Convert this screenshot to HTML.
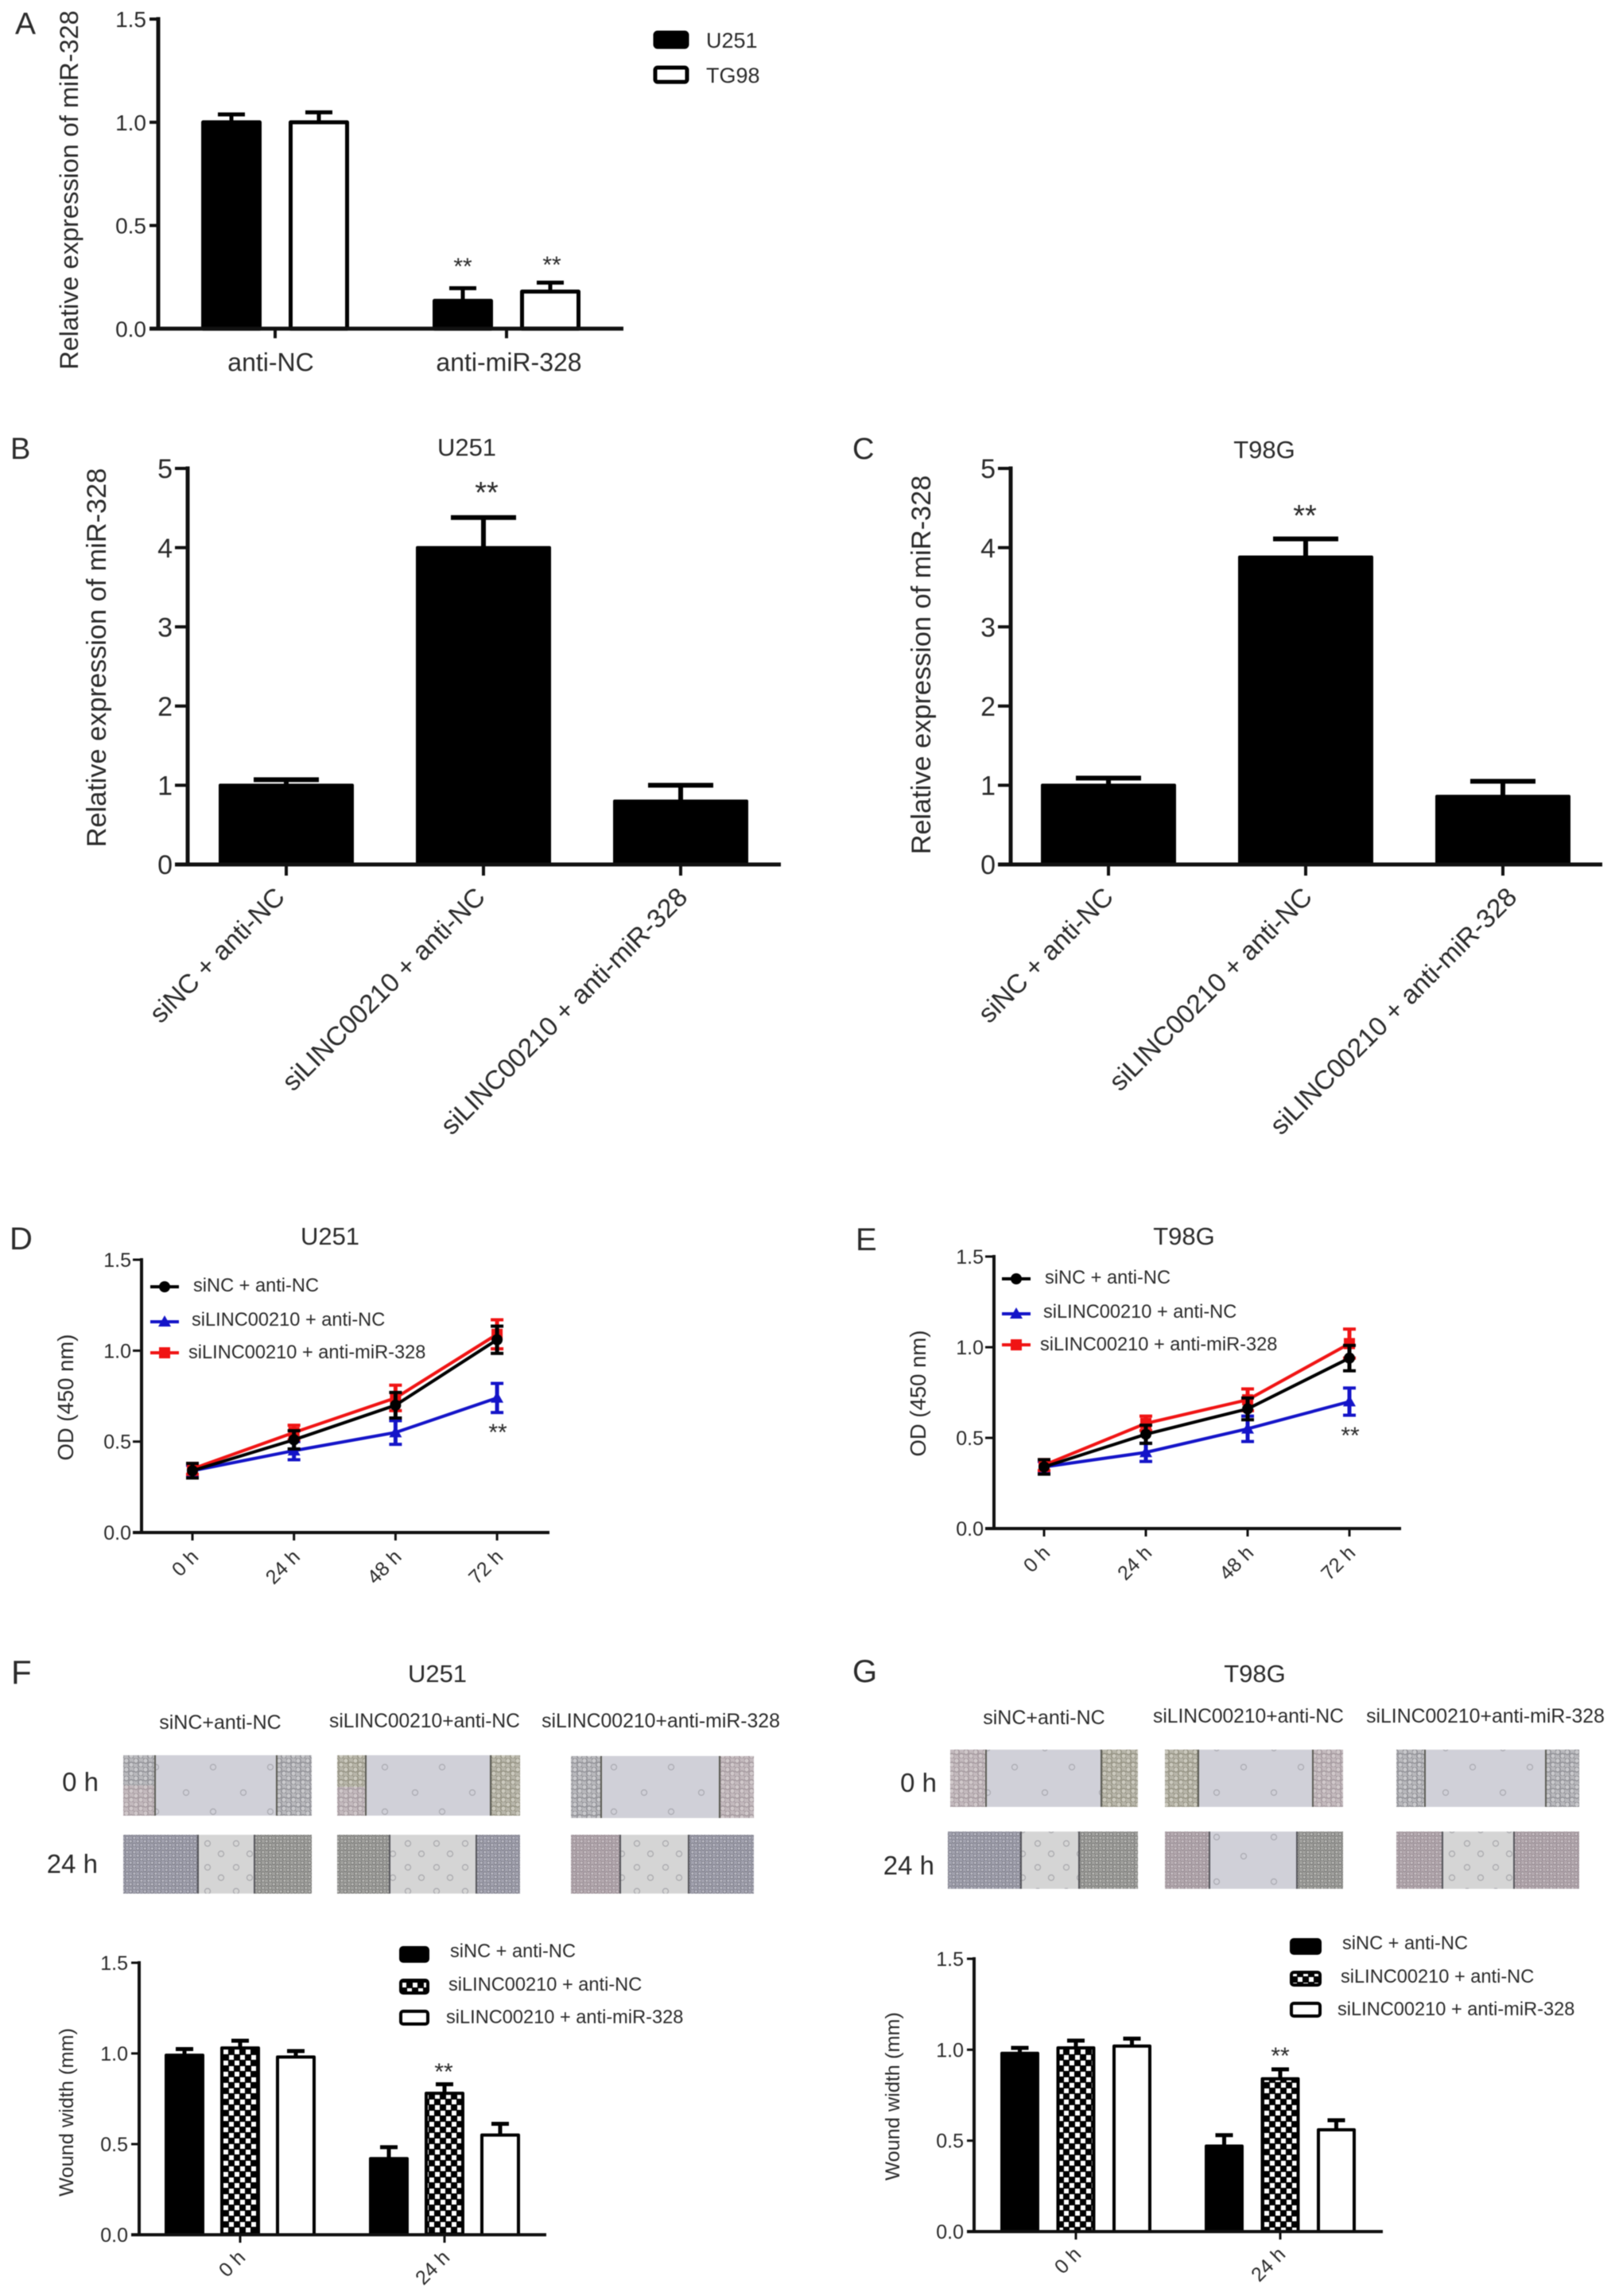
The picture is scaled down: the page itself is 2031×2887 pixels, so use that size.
<!DOCTYPE html>
<html lang="en">
<head>
<meta charset="utf-8">
<title>LINC00210 and miR-328 figure panels</title>
<style>
html,body{margin:0;padding:0;background:#fff;}
svg{display:block;filter:blur(0.6px);}
text{font-family:"Liberation Sans",sans-serif;fill:#2b2b2b;}
</style>
</head>
<body>
<svg id="figure" xmlns="http://www.w3.org/2000/svg" width="2031" height="2887" viewBox="0 0 2031 2887">
<defs>
<pattern id="checker" width="14" height="14" patternUnits="userSpaceOnUse"><rect width="14" height="14" fill="#000"/><rect x="1" y="1" width="6" height="6" fill="#fff"/><rect x="8" y="8" width="6" height="6" fill="#fff"/></pattern>
<pattern id="cg" width="12" height="11" patternUnits="userSpaceOnUse"><rect width="12" height="11" fill="#b9b9bd"/><circle cx="3" cy="3" r="3.2" fill="#c9c9cc" stroke="#85858b" stroke-width="1.2"/><circle cx="9" cy="8" r="3.2" fill="#c9c9cc" stroke="#85858b" stroke-width="1.2"/></pattern>
<pattern id="cp" width="12" height="11" patternUnits="userSpaceOnUse"><rect width="12" height="11" fill="#c4babe"/><circle cx="3" cy="3" r="3.2" fill="#d0c8ca" stroke="#9c9096" stroke-width="1.2"/><circle cx="9" cy="8" r="3.2" fill="#d0c8ca" stroke="#9c9096" stroke-width="1.2"/></pattern>
<pattern id="cy" width="12" height="11" patternUnits="userSpaceOnUse"><rect width="12" height="11" fill="#b8b6aa"/><circle cx="3" cy="3" r="3.2" fill="#cbc9be" stroke="#8b8878" stroke-width="1.2"/><circle cx="9" cy="8" r="3.2" fill="#cbc9be" stroke="#8b8878" stroke-width="1.2"/></pattern>
<pattern id="db" width="9" height="9" patternUnits="userSpaceOnUse"><rect width="9" height="9" fill="#a3a3b0"/><circle cx="2.3" cy="2.3" r="2.2" fill="#b8b8c2" stroke="#73737f" stroke-width="1"/><circle cx="6.8" cy="6.8" r="2.2" fill="#b8b8c2" stroke="#73737f" stroke-width="1"/></pattern>
<pattern id="dg" width="9" height="9" patternUnits="userSpaceOnUse"><rect width="9" height="9" fill="#a2a29f"/><circle cx="2.3" cy="2.3" r="2.2" fill="#b7b7b4" stroke="#6d6d6b" stroke-width="1"/><circle cx="6.8" cy="6.8" r="2.2" fill="#b7b7b4" stroke="#6d6d6b" stroke-width="1"/></pattern>
<pattern id="dp" width="9" height="9" patternUnits="userSpaceOnUse"><rect width="9" height="9" fill="#b5aab0"/><circle cx="2.3" cy="2.3" r="2.2" fill="#c6bdc2" stroke="#8d8188" stroke-width="1"/><circle cx="6.8" cy="6.8" r="2.2" fill="#c6bdc2" stroke="#8d8188" stroke-width="1"/></pattern>
<pattern id="gap0" width="72" height="56" patternUnits="userSpaceOnUse"><rect width="72" height="56" fill="#d0d0d8"/><circle cx="18" cy="14" r="3.5" fill="none" stroke="#a9a9b0" stroke-width="1.2"/><circle cx="52" cy="38" r="3.5" fill="none" stroke="#a9a9b0" stroke-width="1.2"/></pattern>
<pattern id="gap1" width="36" height="30" patternUnits="userSpaceOnUse"><rect width="36" height="30" fill="#d5d5d5"/><circle cx="9" cy="8" r="3.5" fill="none" stroke="#a8a8ac" stroke-width="1.2"/><circle cx="26" cy="21" r="3.5" fill="none" stroke="#a8a8ac" stroke-width="1.2"/></pattern>
</defs>

<!-- Panel static text -->
<text x="19" y="43" font-size="39">A</text>
<text x="98" y="239" font-size="32.5" text-anchor="middle" transform="rotate(-90 98 239)">Relative expression of miR-328</text>
<text x="582" y="345" font-size="30" text-anchor="middle">**</text>
<text x="694" y="343" font-size="30" text-anchor="middle">**</text>
<g>
<rect x="824" y="41" width="40" height="18" rx="3" fill="#000" stroke="#000" stroke-width="5"/>
<text x="888" y="60" font-size="27">U251</text>
<rect x="824" y="85" width="40" height="18" rx="3" fill="#fff" stroke="#000" stroke-width="5"/>
<text x="888" y="104" font-size="27">TG98</text>
</g>

<text x="13" y="577" font-size="38">B</text>
<text x="587" y="573" font-size="31" text-anchor="middle">U251</text>
<text x="133" y="827" font-size="34.3" text-anchor="middle" transform="rotate(-90 133 827)">Relative expression of miR-328</text>
<text x="612" y="632" font-size="38" text-anchor="middle">**</text>

<text x="1072" y="577" font-size="38">C</text>
<text x="1590" y="576" font-size="31" text-anchor="middle">T98G</text>
<text x="1170" y="836" font-size="34.3" text-anchor="middle" transform="rotate(-90 1170 836)">Relative expression of miR-328</text>
<text x="1641" y="661" font-size="38" text-anchor="middle">**</text>

<text x="12" y="1571" font-size="40">D</text>
<text x="415" y="1565" font-size="31" text-anchor="middle">U251</text>
<text x="92" y="1757" font-size="27.5" text-anchor="middle" transform="rotate(-90 92 1757)">OD (450 nm)</text>
<text x="626" y="1811" font-size="30" text-anchor="middle">**</text>
<g>
<line x1="189" y1="1618" x2="225" y2="1618" stroke="#000" stroke-width="4"/>
<circle cx="207" cy="1618" r="7" fill="#000"/>
<text x="243" y="1624" font-size="23.6">siNC + anti-NC</text>
<line x1="189" y1="1662" x2="225" y2="1662" stroke="#1414c8" stroke-width="4"/>
<polygon points="207,1654 215,1668 199,1668" fill="#1414c8"/>
<text x="241" y="1667" font-size="23.6">siLINC00210 + anti-NC</text>
<line x1="189" y1="1701" x2="225" y2="1701" stroke="#f01414" stroke-width="4"/>
<rect x="200" y="1694" width="14" height="14" fill="#f01414"/>
<text x="237" y="1708" font-size="23.6">siLINC00210 + anti-miR-328</text>
</g>

<text x="1076" y="1572" font-size="40">E</text>
<text x="1489" y="1565" font-size="31" text-anchor="middle">T98G</text>
<text x="1164" y="1752" font-size="27.5" text-anchor="middle" transform="rotate(-90 1164 1752)">OD (450 nm)</text>
<text x="1698" y="1815" font-size="30" text-anchor="middle">**</text>
<g>
<line x1="1260" y1="1608" x2="1296" y2="1608" stroke="#000" stroke-width="4"/>
<circle cx="1278" cy="1608" r="7" fill="#000"/>
<text x="1314" y="1614" font-size="23.6">siNC + anti-NC</text>
<line x1="1260" y1="1652" x2="1296" y2="1652" stroke="#1414c8" stroke-width="4"/>
<polygon points="1278,1644 1286,1658 1270,1658" fill="#1414c8"/>
<text x="1312" y="1657" font-size="23.6">siLINC00210 + anti-NC</text>
<line x1="1260" y1="1691" x2="1296" y2="1691" stroke="#f01414" stroke-width="4"/>
<rect x="1271" y="1684" width="14" height="14" fill="#f01414"/>
<text x="1308" y="1698" font-size="23.6">siLINC00210 + anti-miR-328</text>
</g>

<!-- Panel F scratch-wound photographs -->
<text x="14" y="2117" font-size="42">F</text>
<text x="550" y="2115" font-size="31" text-anchor="middle">U251</text>
<text x="277" y="2174" font-size="25" text-anchor="middle">siNC+anti-NC</text>
<text x="534" y="2172" font-size="24.6" text-anchor="middle">siLINC00210+anti-NC</text>
<text x="831" y="2172" font-size="24.8" text-anchor="middle">siLINC00210+anti-miR-328</text>
<text x="124" y="2252" font-size="33" text-anchor="end">0 h</text>
<text x="123" y="2355" font-size="33" text-anchor="end">24 h</text>
<g><rect x="155" y="2207" width="40" height="76" fill="url(#cg)"/><rect x="155" y="2245" width="40" height="38" fill="url(#cp)"/><rect x="195" y="2207" width="153" height="76" fill="url(#gap0)"/><rect x="348" y="2207" width="44" height="76" fill="url(#cg)"/><path d="M195 2207V2283M348 2207V2283" stroke="#5c5c55" stroke-width="2"/></g>
<g><rect x="424" y="2207" width="36" height="40" fill="url(#cy)"/><rect x="424" y="2247" width="36" height="36" fill="url(#cp)"/><rect x="460" y="2207" width="157" height="76" fill="url(#gap0)"/><rect x="617" y="2207" width="37" height="76" fill="url(#cy)"/><path d="M460 2207V2283M617 2207V2283" stroke="#5c5c55" stroke-width="2"/></g>
<g><rect x="718" y="2208" width="38" height="78" fill="url(#cg)"/><rect x="756" y="2208" width="149" height="78" fill="url(#gap0)"/><rect x="905" y="2208" width="43" height="78" fill="url(#cp)"/><path d="M756 2208V2286M905 2208V2286" stroke="#5c5c55" stroke-width="2"/></g>
<g><rect x="155" y="2307" width="94" height="74" fill="url(#db)"/><rect x="249" y="2307" width="71" height="74" fill="url(#gap1)"/><rect x="320" y="2307" width="72" height="74" fill="url(#dg)"/><path d="M249 2307V2381M320 2307V2381" stroke="#55555a" stroke-width="2"/></g>
<g><rect x="424" y="2307" width="66" height="74" fill="url(#dg)"/><rect x="490" y="2307" width="109" height="74" fill="url(#gap1)"/><rect x="599" y="2307" width="55" height="74" fill="url(#db)"/><path d="M490 2307V2381M599 2307V2381" stroke="#55555a" stroke-width="2"/></g>
<g><rect x="718" y="2307" width="62" height="74" fill="url(#dp)"/><rect x="780" y="2307" width="86" height="74" fill="url(#gap1)"/><rect x="866" y="2307" width="82" height="74" fill="url(#db)"/><path d="M780 2307V2381M866 2307V2381" stroke="#55555a" stroke-width="2"/></g>

<!-- Panel G scratch-wound photographs -->
<text x="1072" y="2115" font-size="40">G</text>
<text x="1578" y="2115" font-size="31" text-anchor="middle">T98G</text>
<text x="1313" y="2168" font-size="25" text-anchor="middle">siNC+anti-NC</text>
<text x="1570" y="2166" font-size="24.6" text-anchor="middle">siLINC00210+anti-NC</text>
<text x="1868" y="2166" font-size="24.8" text-anchor="middle">siLINC00210+anti-miR-328</text>
<text x="1178" y="2253" font-size="33" text-anchor="end">0 h</text>
<text x="1175" y="2357" font-size="33" text-anchor="end">24 h</text>
<g><rect x="1195" y="2200" width="45" height="72" fill="url(#cp)"/><rect x="1240" y="2200" width="145" height="72" fill="url(#gap0)"/><rect x="1385" y="2200" width="46" height="72" fill="url(#cy)"/><path d="M1240 2200V2272M1385 2200V2272" stroke="#5c5c55" stroke-width="2"/></g>
<g><rect x="1465" y="2200" width="42" height="72" fill="url(#cy)"/><rect x="1507" y="2200" width="144" height="72" fill="url(#gap0)"/><rect x="1651" y="2200" width="38" height="72" fill="url(#cp)"/><path d="M1507 2200V2272M1651 2200V2272" stroke="#5c5c55" stroke-width="2"/></g>
<g><rect x="1756" y="2200" width="36" height="72" fill="url(#cg)"/><rect x="1792" y="2200" width="152" height="72" fill="url(#gap0)"/><rect x="1944" y="2200" width="42" height="72" fill="url(#cg)"/><path d="M1792 2200V2272M1944 2200V2272" stroke="#5c5c55" stroke-width="2"/></g>
<g><rect x="1192" y="2303" width="92" height="72" fill="url(#db)"/><rect x="1284" y="2303" width="73" height="72" fill="url(#gap1)"/><rect x="1357" y="2303" width="74" height="72" fill="url(#dg)"/><path d="M1284 2303V2375M1357 2303V2375" stroke="#55555a" stroke-width="2"/></g>
<g><rect x="1465" y="2303" width="56" height="72" fill="url(#dp)"/><rect x="1521" y="2303" width="110" height="72" fill="url(#gap0)"/><rect x="1631" y="2303" width="58" height="72" fill="url(#dg)"/><path d="M1521 2303V2375M1631 2303V2375" stroke="#55555a" stroke-width="2"/></g>
<g><rect x="1756" y="2303" width="58" height="72" fill="url(#dp)"/><rect x="1814" y="2303" width="90" height="72" fill="url(#gap1)"/><rect x="1904" y="2303" width="82" height="72" fill="url(#dp)"/><path d="M1814 2303V2375M1904 2303V2375" stroke="#55555a" stroke-width="2"/></g>

<!-- Panel F and G bar chart static text -->
<text x="92" y="2656" font-size="25.3" text-anchor="middle" transform="rotate(-90 92 2656)">Wound width (mm)</text>
<text x="558" y="2615" font-size="30" text-anchor="middle">**</text>
<g>
<rect x="504" y="2449" width="34" height="17" rx="3" fill="#000" stroke="#000" stroke-width="4"/>
<text x="566" y="2461" font-size="23.6">siNC + anti-NC</text>
<rect x="504" y="2490" width="34" height="16" rx="3" fill="url(#checker)" stroke="#000" stroke-width="4"/>
<text x="564" y="2503" font-size="23.6">siLINC00210 + anti-NC</text>
<rect x="504" y="2529" width="34" height="16" rx="3" fill="#fff" stroke="#000" stroke-width="4"/>
<text x="561" y="2544" font-size="23.6">siLINC00210 + anti-miR-328</text>
</g>
<text x="1131" y="2636" font-size="25.3" text-anchor="middle" transform="rotate(-90 1131 2636)">Wound width (mm)</text>
<text x="1610" y="2595" font-size="30" text-anchor="middle">**</text>
<g>
<rect x="1624" y="2439" width="36" height="17" rx="3" fill="#000" stroke="#000" stroke-width="4"/>
<text x="1688" y="2451" font-size="23.6">siNC + anti-NC</text>
<rect x="1624" y="2480" width="36" height="16" rx="3" fill="url(#checker)" stroke="#000" stroke-width="4"/>
<text x="1686" y="2493" font-size="23.6">siLINC00210 + anti-NC</text>
<rect x="1624" y="2519" width="36" height="16" rx="3" fill="#fff" stroke="#000" stroke-width="4"/>
<text x="1682" y="2534" font-size="23.6">siLINC00210 + anti-miR-328</text>
</g>
</svg>

<script>
// ---- Chart data ----
const panelACategories = ['anti-NC', 'anti-miR-328'];
const panelATicks = [0, 0.5, 1.0, 1.5];
const panelATickLabels = ['0.0', '0.5', '1.0', '1.5'];
const panelAU251 = [1.0, 0.135];
const panelAU251Err = [0.038, 0.061];
const panelATG98 = [1.0, 0.18];
const panelATG98Err = [0.048, 0.043];

const panelBCategories = ['siNC + anti-NC', 'siLINC00210 + anti-NC', 'siLINC00210 + anti-miR-328'];
const panelBTicks = [0, 1, 2, 3, 4, 5];
const panelBTickLabels = ['0', '1', '2', '3', '4', '5'];
const panelBValues = [1.0, 4.0, 0.8];
const panelBErr = [0.07, 0.38, 0.2];

const panelCCategories = ['siNC + anti-NC', 'siLINC00210 + anti-NC', 'siLINC00210 + anti-miR-328'];
const panelCTicks = [0, 1, 2, 3, 4, 5];
const panelCTickLabels = ['0', '1', '2', '3', '4', '5'];
const panelCValues = [1.0, 3.88, 0.86];
const panelCErr = [0.09, 0.23, 0.19];

const timeCategories = ['0 h', '24 h', '48 h', '72 h'];
const odTicks = [0, 0.5, 1.0, 1.5];
const odTickLabels = ['0.0', '0.5', '1.0', '1.5'];

const panelDBlack = [0.34, 0.51, 0.70, 1.06];
const panelDBlackErr = [0.04, 0.05, 0.07, 0.075];
const panelDBlue = [0.34, 0.45, 0.55, 0.74];
const panelDBlueErr = [0.03, 0.05, 0.065, 0.08];
const panelDRed = [0.35, 0.55, 0.74, 1.09];
const panelDRedErr = [0.03, 0.04, 0.07, 0.08];

const panelEBlack = [0.34, 0.52, 0.66, 0.94];
const panelEBlackErr = [0.04, 0.05, 0.06, 0.07];
const panelEBlue = [0.34, 0.42, 0.55, 0.70];
const panelEBlueErr = [0.03, 0.05, 0.07, 0.075];
const panelERed = [0.35, 0.58, 0.71, 1.02];
const panelERedErr = [0.03, 0.04, 0.06, 0.08];

const woundCategories = ['0 h', '24 h'];
const woundTicks = [0, 0.5, 1.0, 1.5];
const woundTickLabels = ['0.0', '0.5', '1.0', '1.5'];

const panelFNC = [0.99, 0.42];
const panelFNCErr = [0.034, 0.063];
const panelFSi = [1.03, 0.78];
const panelFSiErr = [0.04, 0.05];
const panelFMiR = [0.98, 0.55];
const panelFMiRErr = [0.033, 0.062];

const panelGNC = [0.98, 0.47];
const panelGNCErr = [0.03, 0.06];
const panelGSi = [1.01, 0.84];
const panelGSiErr = [0.04, 0.052];
const panelGMiR = [1.02, 0.56];
const panelGMiRErr = [0.041, 0.052];

// ---- Drawing helpers ----
const SVGNS = 'http://www.w3.org/2000/svg';
const root = document.getElementById('figure');

function shape(parent, tag, attrs, name) {
  const el = document.createElementNS(SVGNS, tag);
  for (const k in attrs) el.setAttribute(k, attrs[k]);
  
  
  parent.appendChild(el);
  return el;
}

function label(parent, content, attrs, name) {
  const el = shape(parent, 'text', attrs, name);
  el.textContent = content;
  return el;
}

function makeY(layout) {
  return v => layout.base - (v / layout.max) * (layout.base - layout.top);
}

function makeX(layout) {
  return i => layout.firstX + i * layout.stepX;
}

function drawAxes(g, layout, ticks, tickLabels, categories, x, y) {
  const stroke = layout.axisStroke;
  shape(g, 'line', {x1: layout.left, y1: layout.top - stroke / 2, x2: layout.left, y2: layout.base, stroke: '#111', 'stroke-width': stroke}, 'y-axis-line');
  shape(g, 'line', {x1: layout.left - layout.yTick, y1: layout.base, x2: layout.right, y2: layout.base, stroke: '#111', 'stroke-width': stroke}, 'x-axis-line');
  ticks.forEach((t, i) => {
    shape(g, 'line', {x1: layout.left - layout.yTick, y1: y(t), x2: layout.left, y2: y(t), stroke: '#111', 'stroke-width': stroke - 1}, 'y-tick');
    label(g, tickLabels[i], {x: layout.left - layout.yTick - layout.yGap, y: y(t) + layout.tickFont * 0.36, 'font-size': layout.tickFont, 'text-anchor': 'end'}, 'y-tick-label');
  });
  categories.forEach((c, i) => {
    const cx = x(i);
    shape(g, 'line', {x1: cx, y1: layout.base, x2: cx, y2: layout.base + layout.xTick, stroke: '#111', 'stroke-width': stroke - 1}, 'x-tick');
    const nudge = layout.labelNudge ? layout.labelNudge[i] : 0;
    if (layout.flatLabels) {
      label(g, c, {x: cx + layout.labelDx + nudge, y: layout.base + layout.labelDy, 'font-size': layout.labelFont, 'text-anchor': 'middle'}, 'x-tick-label');
    } else {
      const lx = cx + layout.labelDx + nudge;
      const ly = layout.base + layout.labelDy;
      label(g, c, {x: lx, y: ly, 'font-size': layout.labelFont, 'text-anchor': 'end', transform: 'rotate(-45 ' + lx + ' ' + ly + ')'}, 'x-tick-label');
    }
  });
}

function drawBarChart(name, layout, categories, ticks, tickLabels, series) {
  const g = shape(root, 'g', {}, name);
  const x = makeX(layout);
  const y = makeY(layout);
  series.forEach(s => {
    s.values.forEach((v, i) => {
      const cx = x(i) + s.offset;
      const sw = layout.barStroke;
      const topY = y(v);
      const errY = y(v + s.errors[i]);
      shape(g, 'line', {x1: cx, y1: topY, x2: cx, y2: errY, stroke: '#000', 'stroke-width': layout.errStroke}, 'error-bar-stem');
      shape(g, 'line', {x1: cx - layout.capHalf, y1: errY, x2: cx + layout.capHalf, y2: errY, stroke: '#000', 'stroke-width': layout.errStroke}, 'error-bar-cap');
      shape(g, 'rect', {x: cx - layout.barW / 2 + sw / 2, y: topY, width: layout.barW - sw, height: layout.base - topY, fill: s.fill, stroke: '#000', 'stroke-width': sw, 'stroke-linejoin': 'round'}, 'bar-' + s.key + '-' + i);
    });
  });
  drawAxes(g, layout, ticks, tickLabels, categories, x, y);
}

function drawLineChart(name, layout, categories, ticks, tickLabels, series) {
  const g = shape(root, 'g', {}, name);
  const x = makeX(layout);
  const y = makeY(layout);
  drawAxes(g, layout, ticks, tickLabels, categories, x, y);
  series.forEach(s => {
    s.values.forEach((v, i) => {
      const cx = x(i);
      const hi = y(v + s.errors[i]);
      const lo = y(v - s.errors[i]);
      shape(g, 'line', {x1: cx, y1: lo, x2: cx, y2: hi, stroke: s.color, 'stroke-width': 5}, 'error-bar-' + s.key);
      shape(g, 'line', {x1: cx - 8, y1: hi, x2: cx + 8, y2: hi, stroke: s.color, 'stroke-width': 4}, 'error-cap-' + s.key);
      shape(g, 'line', {x1: cx - 8, y1: lo, x2: cx + 8, y2: lo, stroke: s.color, 'stroke-width': 4}, 'error-cap-' + s.key);
    });
    const pts = s.values.map((v, i) => x(i) + ',' + y(v)).join(' ');
    shape(g, 'polyline', {points: pts, fill: 'none', stroke: s.color, 'stroke-width': 4}, 'line-' + s.key);
    s.values.forEach((v, i) => {
      const cx = x(i);
      const cy = y(v);
      if (s.marker === 'circle') {
        shape(g, 'circle', {cx: cx, cy: cy, r: 7, fill: s.color}, 'point-' + s.key);
      } else if (s.marker === 'square') {
        shape(g, 'rect', {x: cx - 7, y: cy - 7, width: 14, height: 14, fill: s.color}, 'point-' + s.key);
      } else {
        shape(g, 'polygon', {points: cx + ',' + (cy - 8) + ' ' + (cx + 8) + ',' + (cy + 6) + ' ' + (cx - 8) + ',' + (cy + 6), fill: s.color}, 'point-' + s.key);
      }
    });
  });
}

// ---- Panels ----
drawBarChart('panel-a-chart',
  {left: 199, right: 784, base: 413.3, top: 24, max: 1.5, firstX: 346, stepX: 291, barW: 76, barStroke: 5, errStroke: 5, capHalf: 17, axisStroke: 5, yTick: 11, yGap: 4, xTick: 12, tickFont: 28, labelFont: 32, flatLabels: true, labelDx: 0, labelNudge: [-5.5, 3], labelDy: 53},
  panelACategories, panelATicks, panelATickLabels,
  [{key: 'u251', values: panelAU251, errors: panelAU251Err, fill: '#000', offset: -55},
   {key: 'tg98', values: panelATG98, errors: panelATG98Err, fill: '#fff', offset: 55}]);

drawBarChart('panel-b-chart',
  {left: 236, right: 982, base: 1087, top: 589, max: 5, firstX: 360, stepX: 248, barW: 170, barStroke: 4, errStroke: 6, capHalf: 41, axisStroke: 5, yTick: 16, yGap: 3, xTick: 14, tickFont: 34, labelFont: 33.4, flatLabels: false, labelDx: 0, labelNudge: [0, 4, 10.5], labelDy: 43},
  panelBCategories, panelBTicks, panelBTickLabels,
  [{key: 'u251', values: panelBValues, errors: panelBErr, fill: '#000', offset: 0}]);

drawBarChart('panel-c-chart',
  {left: 1271, right: 2015, base: 1087, top: 589, max: 5, firstX: 1394, stepX: 248, barW: 170, barStroke: 4, errStroke: 6, capHalf: 41, axisStroke: 5, yTick: 16, yGap: 3, xTick: 14, tickFont: 34, labelFont: 33.4, flatLabels: false, labelDx: 0, labelNudge: [8, 10, 19.5], labelDy: 43},
  panelCCategories, panelCTicks, panelCTickLabels,
  [{key: 't98g', values: panelCValues, errors: panelCErr, fill: '#000', offset: 0}]);

drawLineChart('panel-d-chart',
  {left: 178, right: 691, base: 1927, top: 1584, max: 1.5, firstX: 242, stepX: 127.7, axisStroke: 4, yTick: 11, yGap: 2, xTick: 10, tickFont: 25, labelFont: 25, flatLabels: false, labelDx: 9, labelDy: 32},
  timeCategories, odTicks, odTickLabels,
  [{key: 'silinc-anti-nc-blue', values: panelDBlue, errors: panelDBlueErr, color: '#1414c8', marker: 'triangle'},
   {key: 'silinc-anti-mir-red', values: panelDRed, errors: panelDRedErr, color: '#f01414', marker: 'square'},
   {key: 'sinc-black', values: panelDBlack, errors: panelDBlackErr, color: '#000', marker: 'circle'}]);

drawLineChart('panel-e-chart',
  {left: 1250, right: 1762, base: 1922, top: 1580, max: 1.5, firstX: 1313, stepX: 128, axisStroke: 4, yTick: 11, yGap: 2, xTick: 10, tickFont: 25, labelFont: 25, flatLabels: false, labelDx: 9, labelDy: 32},
  timeCategories, odTicks, odTickLabels,
  [{key: 'silinc-anti-nc-blue', values: panelEBlue, errors: panelEBlueErr, color: '#1414c8', marker: 'triangle'},
   {key: 'silinc-anti-mir-red', values: panelERed, errors: panelERedErr, color: '#f01414', marker: 'square'},
   {key: 'sinc-black', values: panelEBlack, errors: panelEBlackErr, color: '#000', marker: 'circle'}]);

drawBarChart('panel-f-chart',
  {left: 175, right: 687, base: 2810, top: 2468, max: 1.5, firstX: 302, stepX: 257, barW: 50, barStroke: 4, errStroke: 5, capHalf: 11, axisStroke: 4, yTick: 10, yGap: 4, xTick: 10, tickFont: 25, labelFont: 25, flatLabels: false, labelDx: 8, labelDy: 30},
  woundCategories, woundTicks, woundTickLabels,
  [{key: 'sinc', values: panelFNC, errors: panelFNCErr, fill: '#000', offset: -70},
   {key: 'silinc-anti-nc', values: panelFSi, errors: panelFSiErr, fill: 'url(#checker)', offset: 0},
   {key: 'silinc-anti-mir', values: panelFMiR, errors: panelFMiRErr, fill: '#fff', offset: 70}]);

drawBarChart('panel-g-chart',
  {left: 1225, right: 1739, base: 2806, top: 2463, max: 1.5, firstX: 1353, stepX: 257, barW: 49, barStroke: 4, errStroke: 5, capHalf: 11, axisStroke: 4, yTick: 9, yGap: 4, xTick: 10, tickFont: 25, labelFont: 25, flatLabels: false, labelDx: 8, labelDy: 30},
  woundCategories, woundTicks, woundTickLabels,
  [{key: 'sinc', values: panelGNC, errors: panelGNCErr, fill: '#000', offset: -70.5},
   {key: 'silinc-anti-nc', values: panelGSi, errors: panelGSiErr, fill: 'url(#checker)', offset: 0},
   {key: 'silinc-anti-mir', values: panelGMiR, errors: panelGMiRErr, fill: '#fff', offset: 70.5}]);
</script>
</body>
</html>
